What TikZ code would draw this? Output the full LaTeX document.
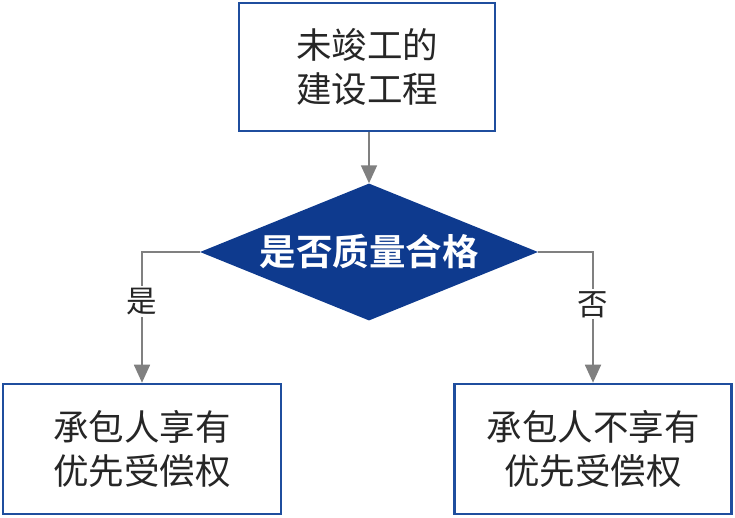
\documentclass[tikz,border=0pt]{standalone}
\usepackage{fontspec}
\newfontfamily\cjk{Noto Sans CJK SC}
\newfontfamily\cjkb{Noto Sans CJK SC Bold}
\usetikzlibrary{shapes.geometric,arrows.meta}
\definecolor{boxblue}{HTML}{1F4E9E}
\definecolor{diafill}{HTML}{0E3A8E}
\definecolor{arrgray}{HTML}{808080}
\tikzset{
  box/.style={draw=boxblue, line width=2.6pt, fill=white, inner sep=0pt, align=center,
    font=\cjk\fontsize{35.5}{44}\selectfont, text=black!85},
  conn/.style={draw=arrgray, line width=1.8pt, -{Triangle[length=18pt,width=16pt]}},
  lbl/.style={fill=white, inner sep=2pt, font=\cjk\fontsize{30.5}{32}\selectfont, text=black!85}
}
\begin{document}
\begin{tikzpicture}[x=1pt,y=-1pt]
\useasboundingbox (0,0) rectangle (735,517);
\node[box, minimum width=256pt, minimum height=128pt] (top) at (367,67) {未竣工的\\建设工程};
\node[diamond, fill=diafill, minimum width=338pt, minimum height=137pt, aspect=2.47, inner sep=0pt,
  font=\cjkb\fontsize{36.5}{38}\selectfont, text=white] (dec) at (369,252) {是否质量合格};
\node[box, minimum width=278pt, minimum height=130pt] (yes) at (142,449) {承包人享有\\优先受偿权};
\node[box, minimum width=277pt, minimum height=130pt] (no) at (593,449) {承包人不享有\\优先受偿权};
\draw[conn] (top.south -| dec.north) -- (dec.north);
\draw[conn] (dec.west) -| node[lbl, pos=0.69] {是} (yes.north);
\draw[conn] (dec.east) -| node[lbl, pos=0.70] {否} (no.north);
\end{tikzpicture}
\end{document}
